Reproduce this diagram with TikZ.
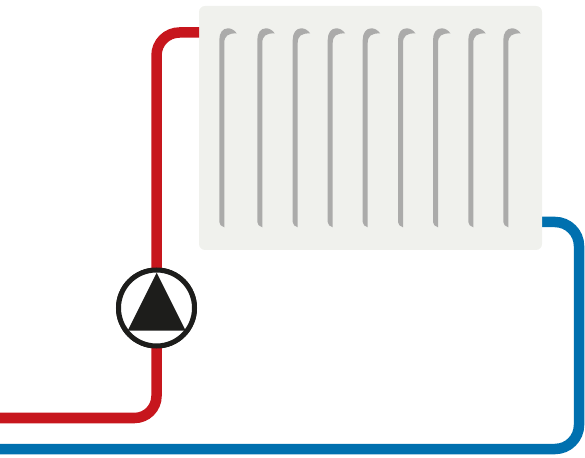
\documentclass[tikz,border=0pt]{standalone}
\usepackage{xcolor}
\usepackage{tikz}
\usetikzlibrary{positioning, calc}
\definecolor{htred}{RGB}{199,22,29}
\definecolor{htblue}{RGB}{0,112,175}
\definecolor{htpanel}{RGB}{240,241,237}
\definecolor{htfin}{RGB}{171,171,170}
\definecolor{htdark}{RGB}{29,29,27}

\begin{document}
\begin{tikzpicture}[x=1pt, y=1pt,
  pipered/.style={draw=htred, line width=10.5pt},
  pipeblue/.style={draw=htblue, line width=10.5pt},
  panel/.style={fill=htpanel, rounded corners=6pt, inner sep=0pt, outer sep=0pt,
    minimum width=343pt, minimum height=244pt},
  pumpring/.style={circle, draw=htdark, fill=white, line width=5pt, inner sep=0pt,
    outer sep=0pt, minimum size=76pt}]
\useasboundingbox (0,0) rectangle (585,457);

% pipe ends
\coordinate (redin) at (199,424.5);
\coordinate (redout) at (0,39);
\coordinate (bluein) at (542,235);
\coordinate (blueout) at (0,8);

% return pipe
\draw[pipeblue, rounded corners=24pt] (bluein) -- (579,235) -- (579,8) -- (blueout);

% radiator
\node[panel, anchor=north west] (radiator) at (199,451) {};
\foreach \x in {219.3,257.3,292.7,327.7,362.7,398,433,468.3,503.3}{
  \fill[htfin] (\x,235) .. controls (\x,232.5) and (\x+2,230.5) .. (\x+5,229.7)
    -- (\x+5,414) .. controls (\x+5,421) and (\x+8.7,424) .. (\x+17.5,423.5)
    .. controls (\x+15.2,427) and (\x+11.7,428.7) .. (\x+8.7,428.7)
    .. controls (\x+3.2,428.7) and (\x,424) .. (\x,417) -- cycle;
}

% pump
\node[pumpring] (pump) at (156.5,149) {};

% flow pipe
\draw[pipered, rounded corners=23pt] (redin) -- (156.5,424.5) -- (pump.north);
\draw[pipered, rounded corners=22pt] (pump.south) -- (156.5,39) -- (redout);

% pump ring over pipe, triangle
\node[pumpring] at (pump) {};
\fill[htdark] (156.7,184.3) -- (185.7,126.3) -- (127.7,126.3) -- cycle;
\end{tikzpicture}
\end{document}
